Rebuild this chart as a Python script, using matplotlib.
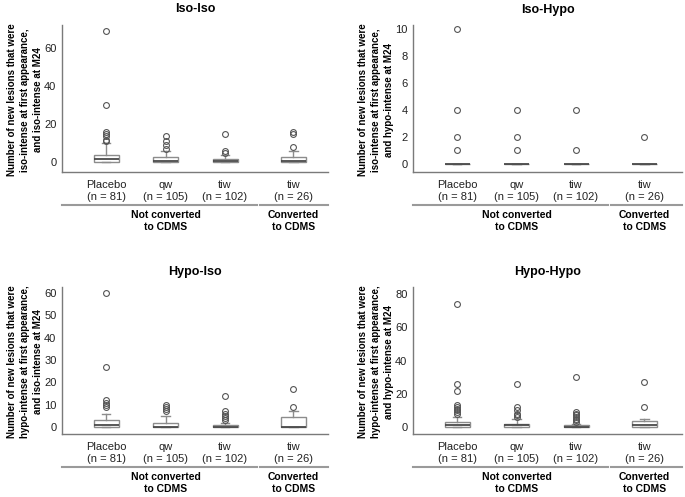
import matplotlib.pyplot as plt
from matplotlib.transforms import blended_transform_factory

plt.rcParams['font.family'] = ['Liberation Sans', 'DejaVu Sans']

# Box-plot summary values (q1, median, q3, upper whisker, outliers)
groups = ["Placebo\n(n = 81)", "qw\n(n = 105)", "tiw\n(n = 102)", "tiw\n(n = 26)"]
positions = [1, 2, 3, 4.15]

panels = ["Iso-Iso", "Iso-Hypo", "Hypo-Iso", "Hypo-Hypo"]
ylabels = [
    "Number of new lesions that were\niso-intense at first appearance,\nand iso-intense at M24",
    "Number of new lesions that were\niso-intense at first appearance,\nand hypo-intense at M24",
    "Number of new lesions that were\nhypo-intense at first appearance,\nand iso-intense at M24",
    "Number of new lesions that were\nhypo-intense at first appearance,\nand hypo-intense at M24",
]

iso_iso_q1 = [0, 0, 0, 0]
iso_iso_med = [2, 1, 1, 1]
iso_iso_q3 = [4, 3, 2, 3]
iso_iso_whi = [10, 6, 4, 6]
iso_iso_fliers = [[11, 12, 14, 15, 16, 30, 69], [7, 9, 11, 14], [5, 6, 15], [8, 15, 16]]

iso_hypo_q1 = [0, 0, 0, 0]
iso_hypo_med = [0, 0, 0, 0]
iso_hypo_q3 = [0, 0, 0, 0]
iso_hypo_whi = [0, 0, 0, 0]
iso_hypo_fliers = [[1, 2, 4, 10], [1, 2, 4], [1, 4], [2]]

hypo_iso_q1 = [0, 0, 0, 0]
hypo_iso_med = [1, 0, 0, 0]
hypo_iso_q3 = [3, 2, 1, 4.5]
hypo_iso_whi = [6, 5, 2, 7]
hypo_iso_fliers = [[9, 10, 11, 12, 27, 60], [7, 8, 9, 10], [3, 4, 5, 6, 7, 14], [9, 17]]

hypo_hypo_q1 = [0, 0, 0, 0]
hypo_hypo_med = [1, 1, 0, 1]
hypo_hypo_q3 = [3, 2, 1, 3.5]
hypo_hypo_whi = [6, 5, 2, 5]
hypo_hypo_fliers = [[8, 9, 10, 11, 12, 13, 22, 26, 74], [6, 7, 8, 10, 12, 26],
                    [3, 4, 5, 6, 7, 8, 9, 30], [12, 27]]

data = [
    (iso_iso_q1, iso_iso_med, iso_iso_q3, iso_iso_whi, iso_iso_fliers),
    (iso_hypo_q1, iso_hypo_med, iso_hypo_q3, iso_hypo_whi, iso_hypo_fliers),
    (hypo_iso_q1, hypo_iso_med, hypo_iso_q3, hypo_iso_whi, hypo_iso_fliers),
    (hypo_hypo_q1, hypo_hypo_med, hypo_hypo_q3, hypo_hypo_whi, hypo_hypo_fliers),
]
yticks = [[0, 20, 40, 60], [0, 2, 4, 6, 8, 10], [0, 10, 20, 30, 40, 50, 60], [0, 20, 40, 60, 80]]
ylims = [(-5, 72), (-0.62, 10.3), (-3.1, 62.7), (-4.2, 84.4)]

W, H = 685, 497
# axes boxes in pixels: left, top, right, bottom
boxes_px = [(62, 25, 328, 172), (413, 25, 682, 172), (62, 287, 328, 434), (413, 287, 682, 434)]
px_per_unit = 59.5

fig = plt.figure(figsize=(W / 100, H / 100), dpi=100)
edge = '#8c8c8c'

for i, (l, t, r, b) in enumerate(boxes_px):
    ax = fig.add_axes([l / W, (H - b) / H, (r - l) / W, (b - t) / H])
    q1, med, q3, whi, fl = data[i]
    stats = []
    for k in range(4):
        stats.append(dict(q1=q1[k], med=med[k], q3=q3[k], whislo=0, whishi=whi[k], fliers=fl[k]))
    ax.bxp(stats, positions=positions, widths=0.42, capwidths=0.14, patch_artist=True,
           boxprops=dict(facecolor='white', edgecolor=edge, linewidth=1.0),
           whiskerprops=dict(color=edge, linewidth=1.0),
           capprops=dict(color=edge, linewidth=1.0),
           medianprops=dict(color='#4a4a4a', linewidth=1.3),
           flierprops=dict(marker='o', markerfacecolor='none', markeredgecolor='#555555',
                           markersize=4.2, markeredgewidth=0.8))
    x0 = 0.26
    ax.set_xlim(x0, x0 + (r - l) / px_per_unit)
    ax.set_ylim(*ylims[i])
    ax.set_yticks(yticks[i])
    ax.set_xticks(positions)
    ax.set_xticklabels(groups)
    ax.tick_params(axis='both', length=0, labelsize=8, colors='#222222', pad=4)
    ax.tick_params(axis='x', pad=6)
    for s in ['top', 'right']:
        ax.spines[s].set_visible(False)
    for s in ['left', 'bottom']:
        ax.spines[s].set_color('#7a7a7a')
        ax.spines[s].set_linewidth(1.0)
    ax.set_title(panels[i], fontsize=9, fontweight='bold', pad=9)
    ax.set_ylabel(ylabels[i], fontsize=7, fontweight='bold', linespacing=1.35)
    ax.yaxis.set_label_coords(-0.072, 0.49)

    # group brackets under the categories
    tr = blended_transform_factory(ax.transData, ax.transAxes)
    ax.plot([x0, 3.53], [-0.224, -0.224], transform=tr, color='#9a9a9a', lw=1.5, clip_on=False)
    ax.plot([3.58, x0 + (r - l) / px_per_unit], [-0.224, -0.224], transform=tr,
            color='#9a9a9a', lw=1.5, clip_on=False)
    ax.text(2, -0.26, "Not converted\nto CDMS", transform=tr, ha='center', va='top',
            fontsize=7.5, fontweight='bold', linespacing=1.2)
    ax.text(4.15, -0.26, "Converted\nto CDMS", transform=tr, ha='center', va='top',
            fontsize=7.5, fontweight='bold', linespacing=1.2)

fig.savefig('out.png', dpi=100)
